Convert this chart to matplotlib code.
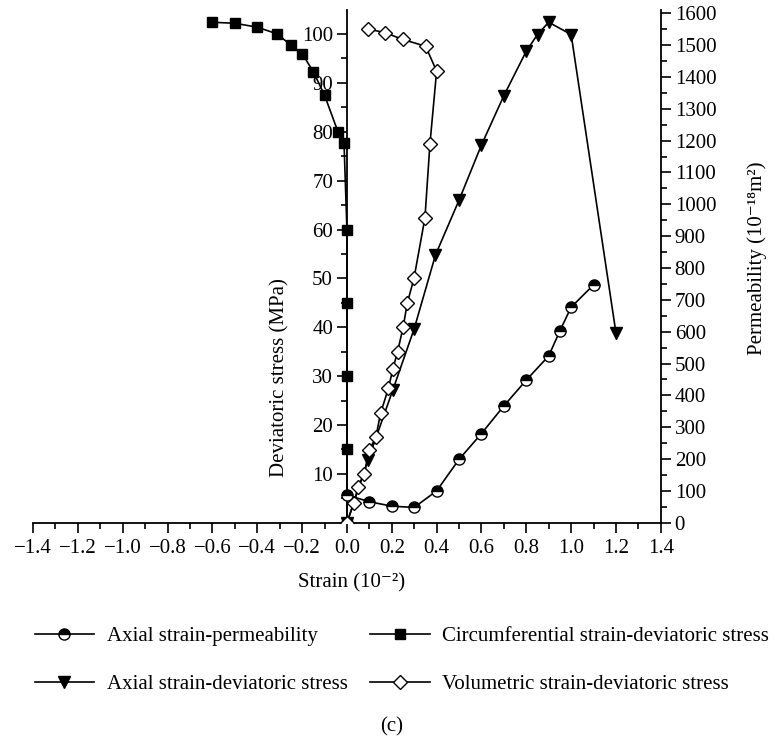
import matplotlib
matplotlib.use("Agg")
import matplotlib.pyplot as plt
from matplotlib.ticker import MultipleLocator

plt.rcParams['font.family'] = ['Liberation Serif', 'DejaVu Serif']
plt.rcParams['font.size'] = 15

# circumferential strain vs deviatoric stress
circ_x = [-0.60, -0.50, -0.40, -0.31, -0.25, -0.20, -0.15, -0.10, -0.04, -0.013, 0.0, 0.0, 0.0, 0.0, 0.0]
circ_y = [102.4, 102.2, 101.4, 100.0, 97.7, 96.0, 92.3, 87.5, 80.0, 77.7, 60.0, 45.0, 30.0, 15.0, 0.0]

# axial strain vs deviatoric stress
ax_x = [0.0, 0.095, 0.205, 0.30, 0.395, 0.50, 0.60, 0.70, 0.80, 0.85, 0.90, 1.00, 1.20]
ax_y = [0.0, 12.9, 27.2, 39.7, 54.8, 66.0, 77.3, 87.4, 96.5, 99.9, 102.4, 99.9, 38.8]

# volumetric strain vs deviatoric stress
vol_x = [0.0, 0.031, 0.050, 0.077, 0.099, 0.129, 0.150, 0.185, 0.205, 0.226, 0.251, 0.269, 0.299, 0.348, 0.37, 0.40, 0.351, 0.248, 0.169, 0.095]
vol_y = [0.0, 4.0, 7.4, 10.0, 14.8, 17.5, 22.4, 27.5, 31.5, 35.0, 40.1, 44.9, 50.0, 62.4, 77.4, 92.4, 97.5, 98.9, 100.3, 101.0]

# axial strain vs permeability
perm_x = [0.0, 0.10, 0.20, 0.30, 0.40, 0.50, 0.60, 0.70, 0.80, 0.90, 0.95, 1.00, 1.10]
perm_y = [87, 66, 52, 48, 100, 199, 280, 367, 448, 524, 603, 677, 747]

x_ticks = [round(-1.4 + 0.2 * i, 1) for i in range(15)]

fig = plt.figure(figsize=(7.77, 7.40), dpi=100)
ax = fig.add_axes([0.0425, 0.2936, 0.808, 0.6928])
ax2 = ax.twinx()

lw = 1.2
h_circ, = ax.plot(circ_x, circ_y, color='black', lw=lw, marker='s', ms=7.5, mfc='black', mec='black',
                  label='Circumferential strain-deviatoric stress', zorder=3)
h_ax, = ax.plot(ax_x, ax_y, color='black', lw=lw, marker='v', ms=8.5, mfc='black', mec='black',
                label='Axial strain-deviatoric stress', zorder=3)
h_vol, = ax.plot(vol_x, vol_y, color='black', lw=lw, marker='D', ms=7.5, mfc='white', mec='black',
                 mew=1.0, label='Volumetric strain-deviatoric stress', zorder=4)
h_perm, = ax2.plot(perm_x, perm_y, color='black', lw=lw, marker='o', ms=8, fillstyle='top',
                   mfc='black', mfcalt='white', mec='black', mew=1.0,
                   label='Axial strain-permeability', zorder=3)

ax.set_xlim(-1.4, 1.4)
ax.set_ylim(0, 104.9)
ax2.set_ylim(0, 1610)

ax.spines['left'].set_position(('data', 0))
ax.spines['top'].set_visible(False)
ax.spines['right'].set_visible(False)
ax2.spines['top'].set_visible(False)
ax2.spines['left'].set_visible(False)
ax2.spines['bottom'].set_visible(False)
for s in [ax.spines['left'], ax.spines['bottom'], ax2.spines['right']]:
    s.set_linewidth(1.3)

ax.set_xticks(x_ticks)
ax.set_xticklabels([f"{v:.1f}".replace('-', '\u2212') for v in x_ticks])
ax.xaxis.set_minor_locator(MultipleLocator(0.1))
ax.set_yticks(range(10, 101, 10))
ax.yaxis.set_minor_locator(MultipleLocator(5))
ax2.set_yticks(range(0, 1601, 100))
ax2.yaxis.set_minor_locator(MultipleLocator(50))

for a in (ax, ax2):
    a.tick_params(which='major', direction='out', length=7, width=1.2, labelsize=15, pad=3)
    a.tick_params(which='minor', direction='out', length=4, width=1.2)
ax.tick_params(axis='x', which='major', pad=5)

ax.set_ylabel('Deviatoric stress (MPa)', fontsize=15)
ax.yaxis.set_label_coords(0.409, 0.284)
ax2.set_ylabel('Permeability (10\u207b\u00b9\u2078m\u00b2)', fontsize=15)
ax2.yaxis.set_label_coords(1.137, 0.516)

fig.text(352 / 777, 1 - 583 / 740, 'Strain (10\u207b\u00b2)', ha='center', va='center', fontsize=15)
fig.text(392 / 777, 1 - 727 / 740, '(c)', ha='center', va='center', fontsize=15)

leg = fig.legend([h_perm, h_ax, h_circ, h_vol],
                 [h_perm.get_label(), h_ax.get_label(), h_circ.get_label(), h_vol.get_label()],
                 ncol=2, loc='center left', bbox_to_anchor=(16 / 777, 1 - 660.5 / 740),
                 frameon=False, fontsize=15, handlelength=2.85, handletextpad=0.6,
                 columnspacing=1.1, labelspacing=1.35)

fig.savefig('out.png', dpi=100)
